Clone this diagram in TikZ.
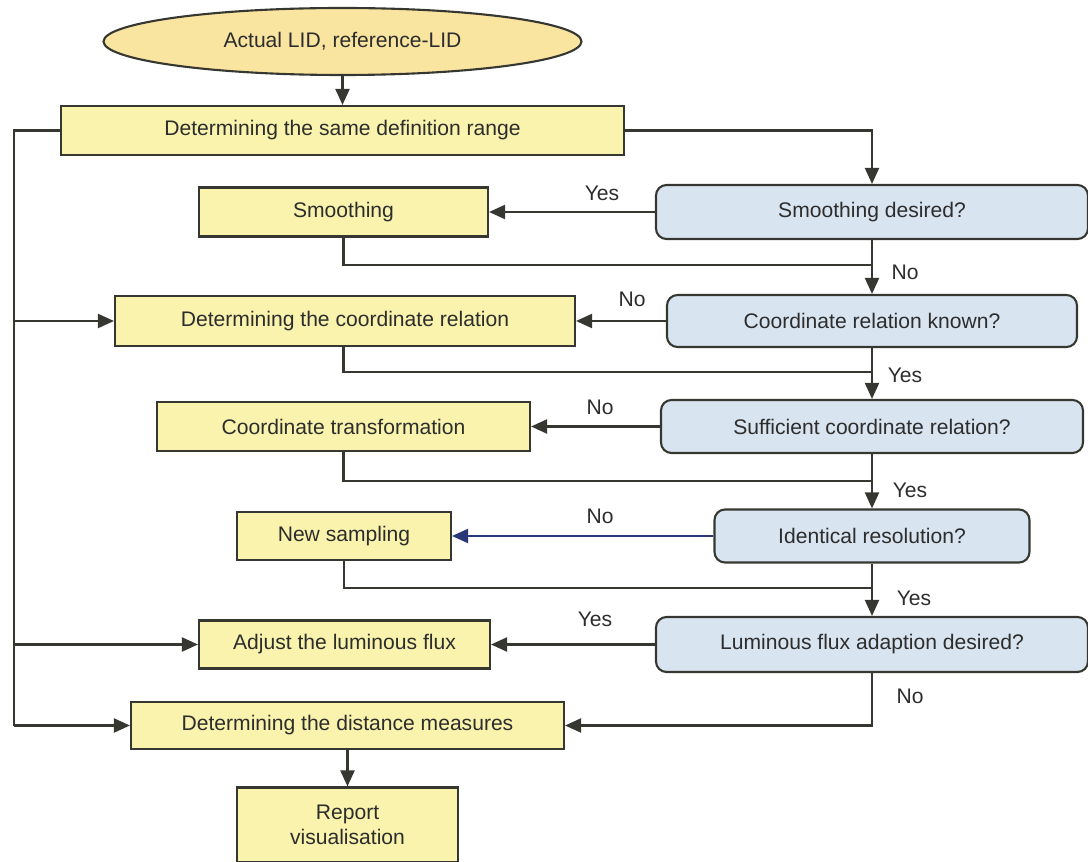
\documentclass[tikz,border=0pt]{standalone}
\usepackage{fontspec}
\setmainfont{Liberation Sans}
\usetikzlibrary{shapes.geometric,calc,arrows.meta}

\definecolor{boxyellow}{RGB}{249,243,173}
\definecolor{startyellow}{RGB}{249,228,160}
\definecolor{askblue}{RGB}{216,228,240}
\definecolor{edgegray}{RGB}{55,55,50}
\definecolor{txtgray}{RGB}{45,45,45}
\definecolor{linkblue}{RGB}{40,55,120}

\begin{document}
\begin{tikzpicture}[
  font=\fontsize{12}{14.4}\selectfont, text=txtgray,
  >={Triangle[length=3.2mm,width=2.8mm]},
  link/.style={line width=1.2pt, draw=edgegray},
  action/.style={rectangle, draw=edgegray, fill=boxyellow, line width=1.2pt},
  ask/.style={rectangle, rounded corners=6pt, draw=edgegray, fill=askblue, line width=1.2pt},
  lbl/.style={text=txtgray}]
  \useasboundingbox (0,0) rectangle (21.76,-17.24);

  \node (lid) [ellipse, draw=edgegray, fill=startyellow, line width=1.2pt, minimum width=9.56cm, minimum height=1.34cm] at (6.85,-0.83) {Actual LID, reference-LID};
  \node (range) [action, minimum width=11.26cm, minimum height=0.98cm] at (6.85,-2.61) {Determining the same definition range};

  \node (qsmooth) [ask, minimum width=8.64cm, minimum height=1.08cm] at (17.44,-4.24) {Smoothing desired?};
  \node (smooth) [action, minimum width=5.78cm, minimum height=0.98cm] at (6.87,-4.24) {Smoothing};
  \node (qcoord) [ask, minimum width=8.2cm, minimum height=1.04cm] at (17.44,-6.42) {Coordinate relation known?};
  \node (coordrel) [action, minimum width=9.2cm, minimum height=1.0cm] at (6.9,-6.42) {Determining the coordinate relation};
  \node (qsuff) [ask, minimum width=8.44cm, minimum height=1.06cm] at (17.44,-8.53) {Sufficient coordinate relation?};
  \node (transf) [action, minimum width=7.46cm, minimum height=0.98cm] at (6.87,-8.53) {Coordinate transformation};
  \node (qres) [ask, minimum width=6.3cm, minimum height=1.06cm] at (17.44,-10.72) {Identical resolution?};
  \node (sampling) [action, minimum width=4.28cm, minimum height=0.96cm] at (6.88,-10.72) {New sampling};
  \node (qflux) [ask, minimum width=8.64cm, minimum height=1.1cm] at (17.44,-12.89) {Luminous flux adaption desired?};
  \node (flux) [action, minimum width=5.82cm, minimum height=0.96cm] at (6.89,-12.89) {Adjust the luminous flux};
  \node (dist) [action, minimum width=8.66cm, minimum height=0.94cm] at (6.95,-14.51) {Determining the distance measures};
  \node (report) [action, minimum width=4.42cm, minimum height=1.5cm, align=center] at (6.95,-16.5) {Report\\visualisation};

  % joins on the right-hand line
  \coordinate (j1) at (17.44,-5.30);
  \coordinate (j2) at (17.44,-7.44);
  \coordinate (j3) at (17.44,-9.62);
  \coordinate (j4) at (17.44,-11.76);
  \coordinate (spine) at (0.28,-2.61);

  \draw[link,->] (lid) -- (range);
  \draw[link,->] (range.east) -| (qsmooth.north);
  \draw[link,->] (qsmooth) -- (smooth);
  \draw[link,->] (qsmooth) -- (qcoord);
  \draw[link] (smooth.south) |- (j1);
  \draw[link,->] (qcoord) -- (coordrel);
  \draw[link,->] (qcoord) -- (qsuff);
  \draw[link] (coordrel.south -| smooth.south) |- (j2);
  \draw[link,->] (qsuff) -- (transf);
  \draw[link,->] (qsuff) -- (qres);
  \draw[link] (transf.south) |- (j3);
  \draw[link,->, draw=linkblue] (qres) -- (sampling);
  \draw[link,->] (qres) -- (qflux);
  \draw[link] (sampling.south) |- (j4);
  \draw[link,->] (qflux) -- (flux);
  \draw[link,->] (qflux.south) |- (dist.east);
  \draw[link,->] (dist) -- (report);

  % loop on the left
  \draw[link] (range.west) -- (spine) -- (spine |- dist.west);
  \draw[link,->] (spine |- coordrel.west) -- (coordrel.west);
  \draw[link,->] (spine |- flux.west) -- (flux.west);
  \draw[link,->] (spine |- dist.west) -- (dist.west);

  \node (y1) [lbl] at (12.04,-3.86) {Yes};
  \node (n1) [lbl] at (18.1,-5.44) {No};
  \node (n2) [lbl] at (12.64,-5.98) {No};
  \node (y2) [lbl] at (18.1,-7.5) {Yes};
  \node (n3) [lbl] at (12.0,-8.14) {No};
  \node (y3) [lbl] at (18.2,-9.8) {Yes};
  \node (n4) [lbl] at (12.0,-10.32) {No};
  \node (y4) [lbl] at (18.28,-11.96) {Yes};
  \node (y5) [lbl] at (11.9,-12.38) {Yes};
  \node (n5) [lbl] at (18.2,-13.92) {No};
\end{tikzpicture}
\end{document}
